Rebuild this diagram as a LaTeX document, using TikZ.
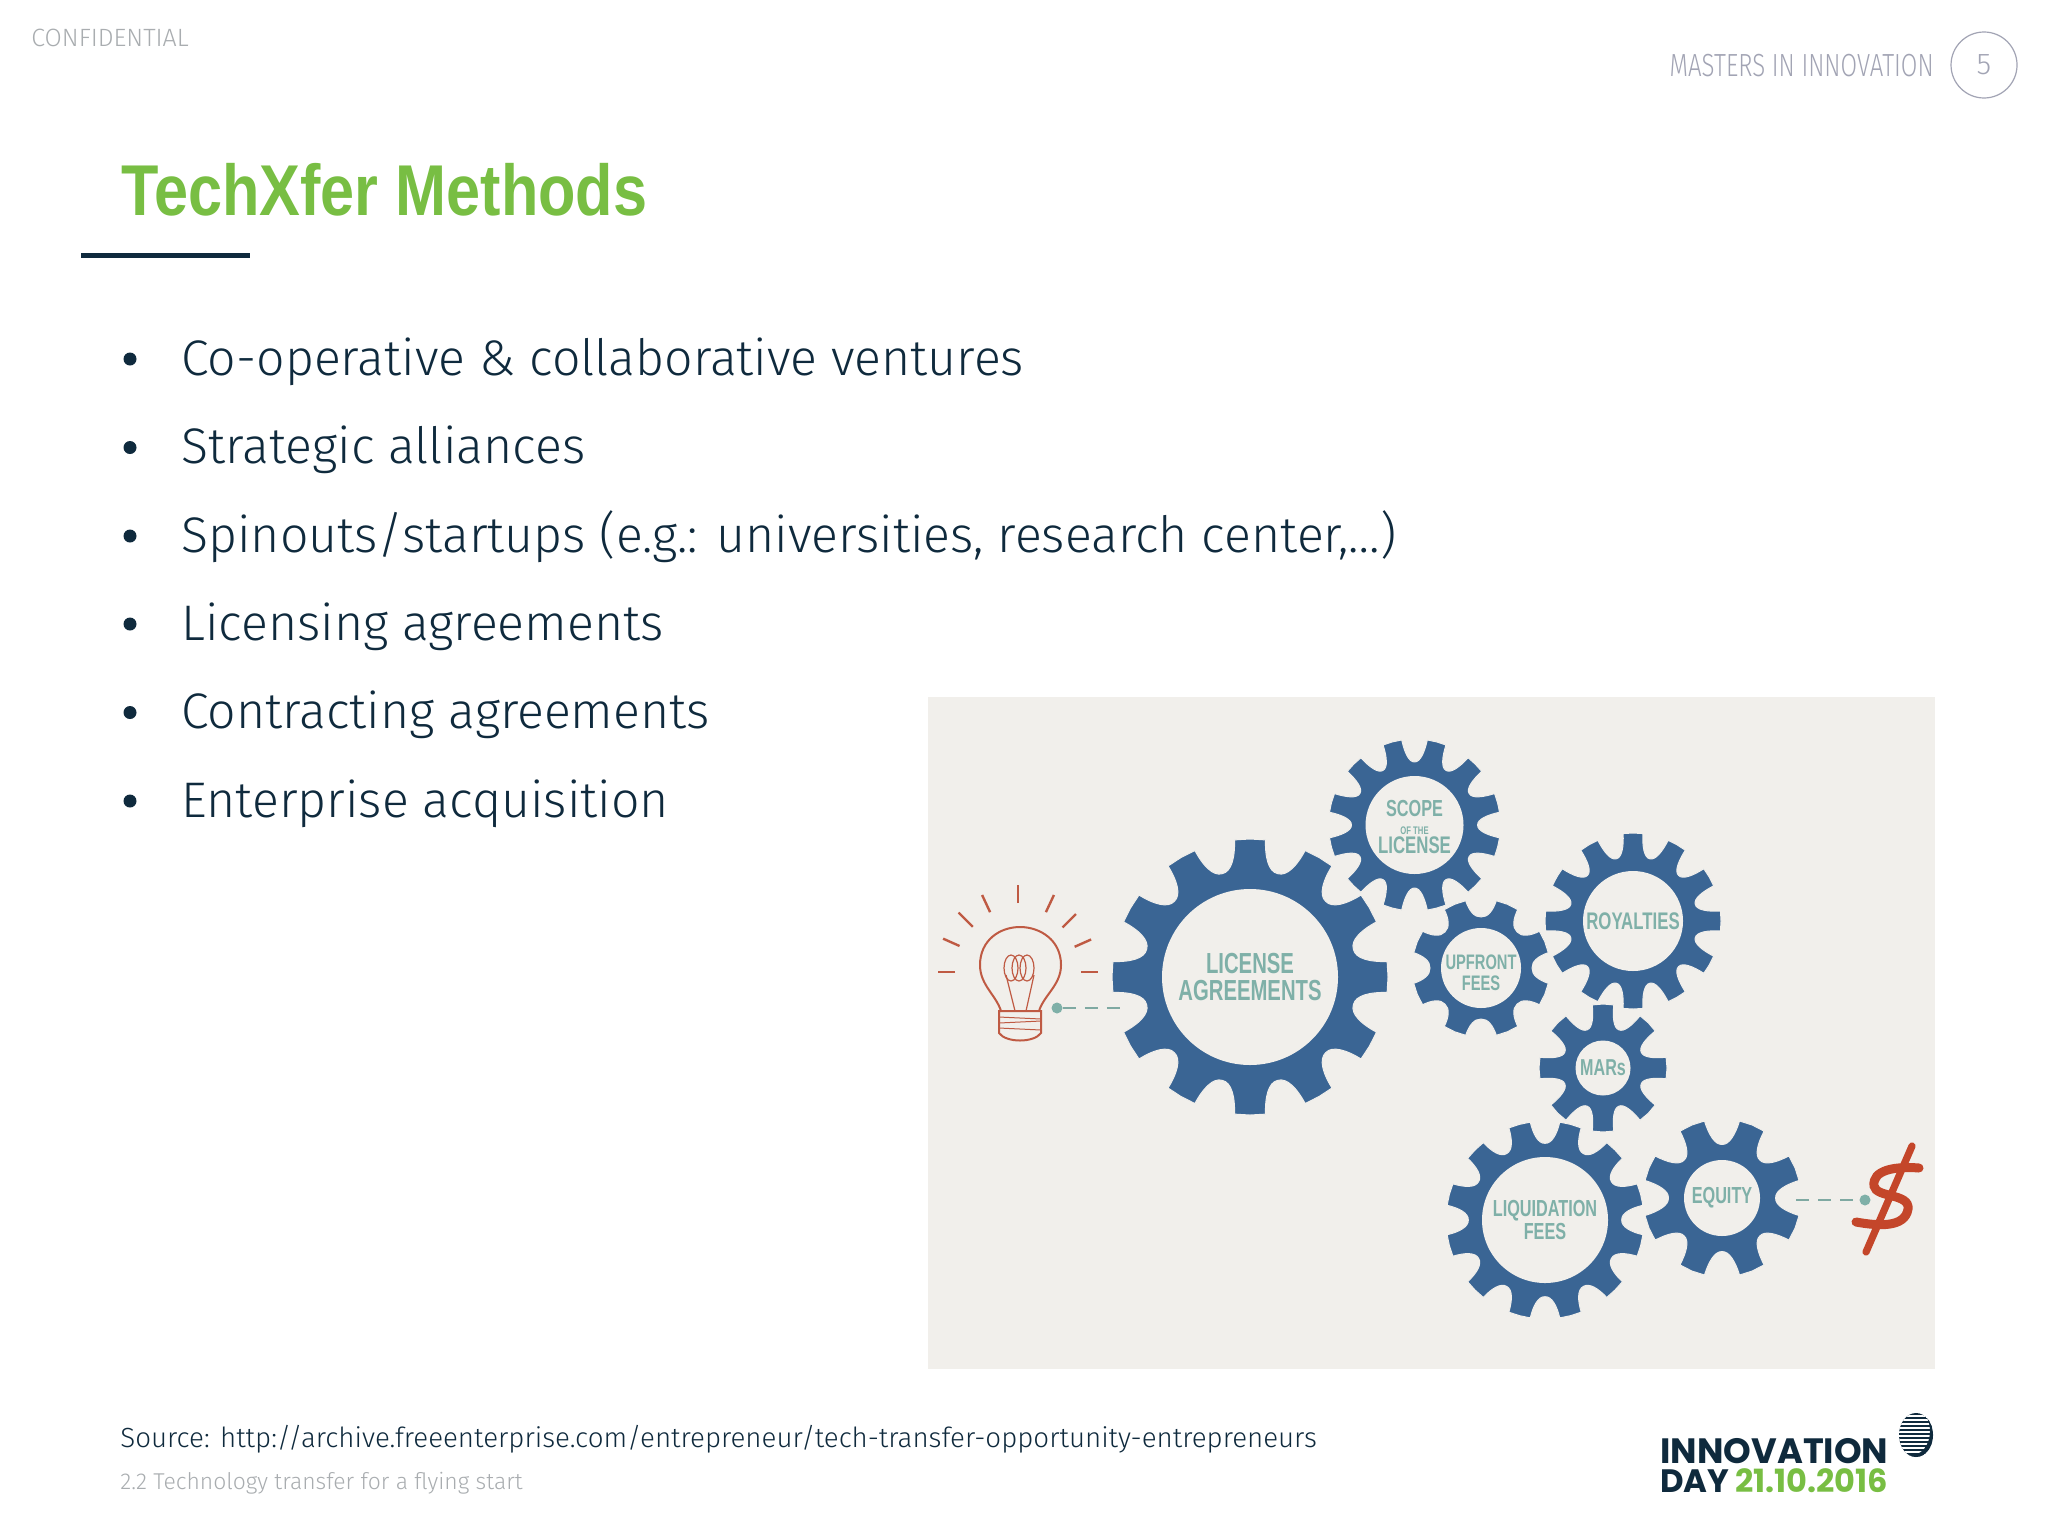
\documentclass[tikz,border=0pt]{standalone}
\usepackage{fontspec}
\setmainfont{Fira Sans Light}
\newfontfamily\titlefont[FakeStretch=0.85]{Liberation Sans}
\newfontfamily\gearfont[FakeStretch=0.7]{Liberation Sans}
\newfontfamily\handfont[FakeStretch=0.75]{Fira Sans Light}
\newfontfamily\logofont{Poppins}
\usetikzlibrary{positioning}
\definecolor{panelgrey}{HTML}{F1EFEB}
\definecolor{gearblue}{HTML}{3A6594}
\definecolor{gearteal}{HTML}{7FB0A8}
\definecolor{bulbred}{HTML}{BF5A43}
\definecolor{dollarred}{HTML}{C4462A}
\definecolor{navy}{HTML}{0F2A3D}
\definecolor{leaf}{HTML}{78BE43}
\definecolor{palegrey}{HTML}{A9ADB0}
\definecolor{handgrey}{HTML}{A2A4B4}
\tikzset{
	bodytext/.style={anchor=base west,inner sep=0pt,text=navy,font=\fontsize{25}{30}\selectfont},
	bulletdot/.style={circle,fill=navy,inner sep=0pt,minimum size=6.5pt},
	gearhole/.style={circle,fill=panelgrey,inner sep=0pt,text=gearteal,align=center},
	gearlabel/.style={font=\gearfont\bfseries\fontsize{#1}{#1}\selectfont},
	linkdash/.style={gearteal!85!gray,line width=1.4pt,dash pattern=on 6.5pt off 4.5pt},
	linkdot/.style={circle,fill=gearteal,inner sep=0pt,minimum size=5.5pt},
}
% teeth ring: x, y, outer radius, hole radius, teeth, phase
\newcommand{\gearwheel}[6]{%
	\pgfmathsetmacro\gearstep{360/#5}
	\pgfmathsetmacro\gearside{0.215*\gearstep}
	\pgfmathsetmacro\gearroot{#3-0.62*(#3-#4)}
	\begin{scope}[shift={(#1,#2)}]
		\fill[gearblue,draw=panelgrey,line width=0.5pt] ({#6-\gearside}:#3) \foreach \k in {1,...,#5} {
			-- ({#6+(\k-1)*\gearstep}:#3)
			-- ({#6+(\k-1)*\gearstep+\gearside}:#3)
			.. controls ({#6+(\k-1)*\gearstep+\gearside*1.1}:{\gearroot+0.45*(#3-\gearroot)}) and ({#6+(\k-0.5)*\gearstep-\gearside*0.8}:\gearroot) .. ({#6+(\k-0.5)*\gearstep}:\gearroot)
			.. controls ({#6+(\k-0.5)*\gearstep+\gearside*0.8}:\gearroot) and ({#6+\k*\gearstep-\gearside*1.1}:{\gearroot+0.45*(#3-\gearroot)}) .. ({#6+\k*\gearstep-\gearside}:#3)
		} -- cycle;
	\end{scope}
}

\begin{document}
\begin{tikzpicture}[x=0.5pt,y=-0.5pt]
	\useasboundingbox (0,0) rectangle (2048,1536);
	\fill[white] (0,0) rectangle (2048,1536);

	% header
	\node[anchor=west,inner sep=0pt,text=palegrey,font=\fontsize{12.5}{15}\selectfont] (conf) at (31,38) {CONFIDENTIAL};
	\node[circle,draw=handgrey,line width=0.6pt,minimum size=33pt,inner sep=0pt,text=handgrey,font=\fontsize{15}{18}\selectfont] (pagenum) at (1984,65) {5};
	\node[anchor=base east,inner sep=0pt,text=handgrey,font=\handfont\fontsize{16}{18}\selectfont] (master) at (1934,77) {MASTERS IN INNOVATION};

	% title
	\node[anchor=base west,inner sep=0pt,text=leaf,font=\titlefont\bfseries\fontsize{36}{40}\selectfont] (title) at (121,215) {TechXfer Methods};
	\coordinate (ruleL) at (81,255);
	\coordinate (ruleR) at (250,255);
	\draw[navy,line width=2.5pt] (ruleL) -- (ruleR);

	% list
	\node[bodytext] (item1) at (181,375) {Co-operative \& collaborative ventures};
	\node[bodytext] (item2) at (181,463.5) {Strategic alliances};
	\node[bodytext] (item3) at (181,552) {Spinouts/startups (e.g.: universities, research center,…)};
	\node[bodytext] (item4) at (181,640) {Licensing agreements};
	\node[bodytext] (item5) at (181,728.5) {Contracting agreements};
	\node[bodytext] (item6) at (181,817) {Enterprise acquisition};
	\node[bulletdot] (dot1) at (130,359) {};
	\node[bulletdot] (dot2) at (130,447.5) {};
	\node[bulletdot] (dot3) at (130,536) {};
	\node[bulletdot] (dot4) at (130,624) {};
	\node[bulletdot] (dot5) at (130,712.5) {};
	\node[bulletdot] (dot6) at (130,801) {};

	% picture panel
	\fill[panelgrey] (928,697) rectangle (1935,1369);

	\gearwheel{1250}{977}{138}{88}{12}{0}
	\gearwheel{1414.5}{825}{86}{49}{12}{15}
	\gearwheel{1481}{968}{69}{40}{8}{22.5}
	\gearwheel{1633}{921}{88}{50}{12}{0}
	\gearwheel{1603}{1068}{64}{27.5}{8}{0}
	\gearwheel{1545}{1220}{99}{63}{12}{15}
	\gearwheel{1722}{1198}{79}{38}{8}{22.5}

	\node[gearhole,minimum size=88pt,gearlabel=14.5] (license) at (1250,977) {LICENSE\\[-0.8pt]AGREEMENTS};
	\node[gearhole,minimum size=49pt] (scope) at (1414.5,825) {};
	\node[text=gearteal,inner sep=0pt,align=center] (scopetext) at ([yshift=-1pt]scope) {{\gearfont\bfseries\fontsize{11.6}{11.6}\selectfont SCOPE}\\[-3pt]{\gearfont\bfseries\fontsize{5.5}{5.5}\selectfont OF THE}\\[-2.5pt]{\gearfont\bfseries\fontsize{12}{12}\selectfont LICENSE}};
	\node[gearhole,minimum size=40pt] (upfront) at (1481,968) {};
	\node[text=gearteal,inner sep=0pt,align=center,gearlabel=10.5] (upfronttext) at ([yshift=-2.5pt]upfront) {UPFRONT\\FEES};
	\node[gearhole,minimum size=50pt,gearlabel=12] (royalties) at (1633,921) {ROYALTIES};
	\node[gearhole,minimum size=27.5pt,gearlabel=11.5] (mars) at (1603,1068) {MARs};
	\node[gearhole,minimum size=63pt,gearlabel=11.6] (liquidation) at (1545,1220) {LIQUIDATION\\FEES};
	\node[gearhole,minimum size=38pt,gearlabel=11.6] (equity) at (1722,1198) {EQUITY};

	% light bulb
	\coordinate (bulbC) at (1018,972);
	\foreach \a/\ri/\ro in {0/63/80,24/62/80,45/63/82,65/66/85,90/69/87,115/66/85,135/64/84,156/64/82,180/63/80}
		\draw[bulbred,line width=1.2pt] ([shift={(-\a:\ri)}]bulbC) -- ([shift={(-\a:\ro)}]bulbC);
	\draw[bulbred,line width=1pt] (1001,1011) .. controls (996,995) and (980,985) .. (980,965) .. controls (980,940) and (1000,927) .. (1020,927) .. controls (1040,927) and (1061,940) .. (1061,965) .. controls (1061,985) and (1044,995) .. (1039,1011);
	\draw[bulbred,line width=0.6pt] (1015,1011) -- (1006,975) (1026,1011) -- (1034,975);
	\draw[bulbred,line width=0.6pt] (1011,968) ellipse (7 and 13) (1019,968) ellipse (7 and 13) (1027,968) ellipse (7 and 13);
	\draw[bulbred,line width=1pt] (999,1011) -- (1041,1011) -- (1041,1033) .. controls (1034,1043) and (1006,1043) .. (999,1033) -- cycle;
	\draw[bulbred,line width=0.5pt] (999,1017) -- (1041,1019) (999,1023) -- (1041,1021) (999,1028) -- (1041,1030);

	\node[linkdot] (bulbdot) at (1057,1008) {};
	\coordinate (licenseend) at (1125,1008);
	\draw[linkdash] (bulbdot) -- (licenseend);

	% dollar
	\draw[dollarred,line width=3.6pt,line cap=round] (1912,1146) -- (1866,1252);
	\draw[dollarred,line width=4.5pt,line cap=round] (1919,1168) .. controls (1895,1166) and (1872,1170) .. (1874,1186) .. controls (1876,1198) and (1910,1193) .. (1908,1209) .. controls (1905,1228) and (1878,1226) .. (1856,1222);
	\node[linkdot] (dollardot) at (1865,1200) {};
	\coordinate (equityend) at (1796,1200);
	\draw[linkdash] (equityend) -- (dollardot);

	% footer
	\node[anchor=base west,inner sep=0pt,text=navy,font=\fontsize{13.85}{17}\selectfont] (source) at (120,1447.5) {Source: http://archive.freeenterprise.com/entrepreneur/tech-transfer-opportunity-entrepreneurs};
	\node[anchor=base west,inner sep=0pt,text=palegrey,font=\fontsize{11.45}{14}\selectfont] (sub) at (120,1489) {2.2 Technology transfer for a flying start};

	% logo
	\node[anchor=base west,inner sep=0pt,text=navy,font=\logofont\bfseries\fontsize{17.6}{18}\selectfont] (logo1) at (1660,1463.5) {INNOVATION};
	\node[anchor=base west,inner sep=0pt,text=navy,font=\logofont\bfseries\fontsize{16.2}{18}\selectfont] (logo2) at (1660,1492.5) {DAY};
	\node[anchor=base east,inner sep=0pt,text=leaf,font=\logofont\bfseries\fontsize{16}{18}\selectfont] (logo3) at (1888.5,1492.5) {21.10.2016};
	\begin{scope}
		\clip (1916,1435) ellipse (17 and 22);
		\fill[navy] (1916,1435) ellipse (17 and 22);
		\foreach \yy in {1416,1420,...,1456}
			\draw[white,line width=0.8pt] (1895,\yy) -- (1935,\yy);
		\fill[navy,even odd rule] (1916,1435) ellipse (20 and 25) (1912,1431) ellipse (18 and 24);
	\end{scope}
\end{tikzpicture}
\end{document}
